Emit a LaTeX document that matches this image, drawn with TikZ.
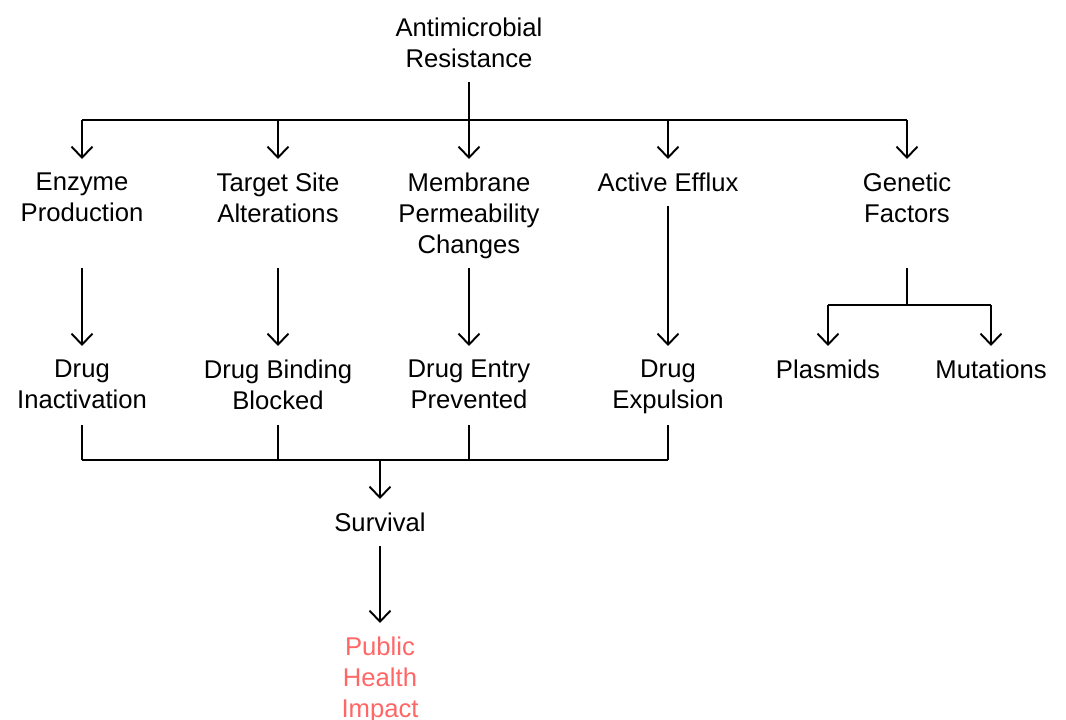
\documentclass[tikz,border=0pt]{standalone}
\usepackage{fontspec}
\setmainfont{Liberation Sans}
\usetikzlibrary{arrows.meta}
\definecolor{impact}{RGB}{255,102,102}

\begin{document}
\begin{tikzpicture}[x=0.02cm,y=-0.02cm,
  lbl/.style={align=center,anchor=north,inner sep=0pt,outer sep=0.28cm,font=\fontsize{14.6}{17.7}\selectfont},
  ln/.style={black,line width=1.1pt},
  arr/.style={ln,-{Straight Barb[length=0.22cm,width=0.42cm]}}]

\useasboundingbox (0,0) rectangle (1066,720);

\node[lbl] (amr) at (469,4) {Antimicrobial\\Resistance};

\node[lbl] (enz) at (82,159) {Enzyme\\Production};
\node[lbl] (tsa) at (278,159) {Target Site\\Alterations};
\node[lbl] (mem) at (469,159) {Membrane\\Permeability\\Changes};
\node[lbl] (eff) at (668,159) {Active Efflux};
\node[lbl] (gen) at (907,159) {Genetic\\Factors};

\node[lbl] (inact) at (82,346) {Drug\\Inactivation};
\node[lbl] (bind) at (278,346) {Drug Binding\\Blocked};
\node[lbl] (entry) at (469,346) {Drug Entry\\Prevented};
\node[lbl] (expul) at (668,346) {Drug\\Expulsion};
\node[lbl] (plas) at (828,346) {Plasmids};
\node[lbl] (mut) at (991,346) {Mutations};

\node[lbl] (surv) at (380,499) {Survival};
\node[lbl,text=impact] (pub) at (380,623) {Public\\Health\\Impact};

\coordinate (bus1) at (469,120);
\coordinate (r2b) at (0,268);
\coordinate (gbus) at (907,305);
\coordinate (r3b) at (0,425);
\coordinate (bbus) at (380,460);

% top split
\draw[ln] (amr.south) -- (bus1);
\draw[ln] (enz |- bus1) -- (gen |- bus1);
\foreach \n in {enz,tsa,mem,eff,gen}
  \draw[arr] (\n |- bus1) -- (\n.north);

% mechanisms
\foreach \a/\b in {enz/inact,tsa/bind,mem/entry}
  \draw[arr] (\a |- r2b) -- (\b.north);
\draw[arr] (eff) -- (expul);

% genetic factors
\draw[ln] (gen |- r2b) -- (gbus);
\draw[ln] (plas |- gbus) -- (mut |- gbus);
\draw[arr] (plas |- gbus) -- (plas.north);
\draw[arr] (mut |- gbus) -- (mut.north);

% merge
\foreach \n in {inact,bind,entry,expul}
  \draw[ln] (\n |- r3b) -- (\n |- bbus);
\draw[ln] (inact |- bbus) -- (expul |- bbus);
\draw[arr] (bbus) -- (surv.north);
\draw[arr] (surv) -- (pub);

\end{tikzpicture}
\end{document}
